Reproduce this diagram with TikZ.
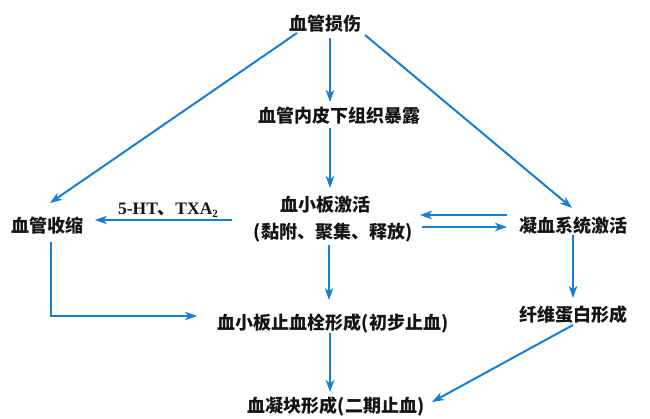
\documentclass[tikz,border=0pt]{standalone}
\usepackage{fontspec}
\usetikzlibrary{arrows.meta,calc}
\newfontfamily\cjk{Noto Sans CJK SC}
\newfontfamily\latinser{Liberation Serif}
\definecolor{arrowblue}{RGB}{24,126,210}
\definecolor{textdark}{RGB}{20,20,20}
\begin{document}
\begin{tikzpicture}[x=1pt,y=-1pt,
  lbl/.style={inner sep=0pt,text=textdark,font=\cjk\bfseries\fontsize{18}{20}\selectfont},
  sublbl/.style={inner sep=0pt,text=textdark,font=\latinser\bfseries\fontsize{17.5}{19}\selectfont},
  conn/.style={draw=arrowblue,line width=2pt,-{Stealth[length=12pt,width=8.5pt,inset=3.5pt]}}]
\fill[white] (0,0) rectangle (650,419);
\useasboundingbox (0,0) rectangle (650,419);
% nodes
\node[lbl] (inj) at (325,24) {血管损伤};
\node[lbl] (exp) at (339,116) {血管内皮下组织暴露};
\node[lbl] (act) at (325,205) {血小板激活};
\node[lbl] (act2) at (333,233) {(黏附、聚集、释放)};
\node[lbl] (con) at (47,226) {血管收缩};
\node[sublbl] (lab) at (168,210) {5-HT{\cjk\bfseries 、}TXA\raisebox{-0.35ex}{\fontsize{11}{11}\selectfont 2}};
\node[lbl] (coag) at (573,226) {凝血系统激活};
\node[lbl] (plug) at (333,323) {血小板止血栓形成(初步止血)};
\node[lbl] (fib) at (573,315) {纤维蛋白形成};
\node[lbl] (clot) at (336,406) {血凝块形成(二期止血)};
% connectors
\draw[conn] ($(inj)+(-28,9)$) -- ($(con)+(3,-23)$);
\draw[conn] ($(inj)+(5,14)$) -- ($(exp)+(-9,-14)$);
\draw[conn] ($(inj)+(40,11)$) -- ($(coag)+(-1,-18)$);
\draw[conn] ($(exp)+(-9,12)$) -- ($(act)+(5,-17)$);
\draw[conn] ($(act)+(-93,15)$) -- ($(con)+(48,-6)$);
\draw[conn] ($(coag)+(-66,-11)$) -- ($(act)+(95,10)$);
\draw[conn] ($(act2)+(89,-6)$) -- ($(coag)+(-66,1)$);
\draw[conn] ($(con)+(4,16)$) |- ($(plug)+(-136,-7)$);
\draw[conn] ($(act2)+(-4,12)$) -- ($(plug)+(-4,-23)$);
\draw[conn] ($(coag)+(0,9)$) -- ($(fib)+(0,-17)$);
\draw[conn] ($(plug)+(-3,10)$) -- ($(clot)+(-6,-14)$);
\draw[conn] ($(fib)+(0,10)$) -- ($(clot)+(96,-4)$);
\end{tikzpicture}
\end{document}
